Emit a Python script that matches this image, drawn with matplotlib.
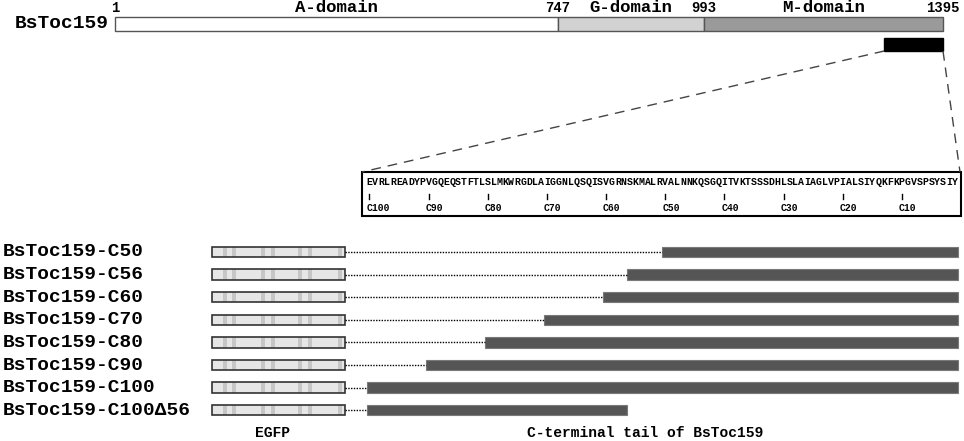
import matplotlib
matplotlib.use("Agg")
import matplotlib.pyplot as plt
from matplotlib.patches import Rectangle

plt.rcParams['font.family'] = ['Liberation Mono', 'DejaVu Sans Mono']
plt.rcParams['font.weight'] = 'bold'

# Данные: домены BsToc159
domain_names = ["A-domain", "G-domain", "M-domain"]
domain_bounds = [1, 747, 993, 1395]
domain_colors = ["#ffffff", "#d2d2d2", "#9a9a9a"]

# C-концевой хвост (последние 100 аминокислот)
tail_len = 100
sequence = "EVRLREADYPVGQEQSTFTLSLMKWRGDLAIGGNLQSQISVGRNSKMALRVALNNKQSGQITVKTSSSDHLSLAIAGLVPIALSIYQKFKPGVSPSYSIY"
tick_marks = [100, 90, 80, 70, 60, 50, 40, 30, 20, 10]

# Конструкции: (название, начало от C-конца, конец от C-конца)
construct_names = ["BsToc159-C50", "BsToc159-C56", "BsToc159-C60", "BsToc159-C70",
                   "BsToc159-C80", "BsToc159-C90", "BsToc159-C100", "BsToc159-C100\u039456"]
construct_start = [50, 56, 60, 70, 80, 90, 100, 100]
construct_end = [0, 0, 0, 0, 0, 0, 0, 56]

fig = plt.figure(figsize=(9.64, 4.41), dpi=100)
ax = fig.add_axes([0, 0, 1, 1])
ax.set_xlim(0, 964)
ax.set_ylim(441, 0)
ax.axis("off")

# --- верхняя полоса с доменами ---
bx0, bx1 = 115, 943
def res_x(r):
    return bx0 + (r - 1) * (bx1 - bx0) / (domain_bounds[-1] - 1)

bar_y, bar_h = 17, 14
for i, name in enumerate(domain_names):
    xa, xb = res_x(domain_bounds[i]), res_x(domain_bounds[i + 1])
    ax.add_patch(Rectangle((xa, bar_y), xb - xa, bar_h, facecolor=domain_colors[i],
                           edgecolor="#555555", lw=1))
    ax.text((xa + xb) / 2, 8, name, ha="center", va="center", fontsize=12.5)
for b in domain_bounds:
    ax.text(res_x(b), 8, str(b), ha="center", va="center", fontsize=10)
ax.text(109, bar_y + bar_h / 2, "BsToc159", ha="right", va="center", fontsize=14)

# чёрный блок — C-концевые 100 остатков
tx0 = res_x(domain_bounds[-1] - tail_len + 1)
tx1 = res_x(domain_bounds[-1])
ax.add_patch(Rectangle((tx0, 38), tx1 - tx0, 13, facecolor="black", edgecolor="black"))

# --- рамка с последовательностью ---
box_l, box_r, box_t, box_b = 362, 961, 172, 216
ax.add_patch(Rectangle((box_l, box_t), box_r - box_l, box_b - box_t, facecolor="white",
                       edgecolor="black", lw=1.5))
ax.plot([tx0, box_l], [51, box_t], color="#444444", lw=1, ls=(0, (7, 5)))
ax.plot([tx1, box_r - 1], [51, box_t], color="#444444", lw=1, ls=(0, (7, 5)))

sx0, cw = 366.5, 5.915
def seq_x(n_from_c):
    # левый край остатка с номером n от C-конца
    return sx0 + (tail_len - n_from_c) * cw

for i, ch in enumerate(sequence):
    ax.text(sx0 + (i + 0.5) * cw, 182, ch, ha="center", va="center", fontsize=7.1)
for t in tick_marks:
    xc = seq_x(t) + cw / 2
    ax.plot([xc, xc], [194, 199], color="black", lw=1)
    ax.text(xc - 3, 208, f"C{t}", ha="left", va="center", fontsize=7)

# --- конструкции ---
row_y0, row_dy = 252, 22.6
egfp_l, egfp_r, row_h = 212, 345, 10.5
stripes = [0.08, 0.15, 0.37, 0.44, 0.65, 0.72, 0.95]
for k, name in enumerate(construct_names):
    y = row_y0 + k * row_dy
    ax.text(3, y, name, ha="left", va="center", fontsize=14)
    ax.add_patch(Rectangle((egfp_l, y - row_h / 2), egfp_r - egfp_l, row_h,
                           facecolor="#e6e6e6", edgecolor="none"))
    for s in stripes:
        ax.add_patch(Rectangle((egfp_l + s * (egfp_r - egfp_l), y - row_h / 2), 4, row_h,
                               facecolor="#c6c6c6", edgecolor="none"))
    ax.add_patch(Rectangle((egfp_l, y - row_h / 2), egfp_r - egfp_l, row_h,
                           facecolor="none", edgecolor="#333333", lw=1.2))
    xs = seq_x(construct_start[k])
    xe = seq_x(construct_end[k])
    ax.plot([egfp_r, xs], [y, y], color="black", lw=1, ls=(0, (1, 1)))
    ax.add_patch(Rectangle((xs, y - row_h / 2), xe - xs, row_h,
                           facecolor="#555555", edgecolor="#7a7a7a", lw=0.8))

ax.text(273, 433, "EGFP", ha="center", va="center", fontsize=10.5)
ax.text(645, 433, "C-terminal tail of BsToc159", ha="center", va="center", fontsize=10.5)

fig.savefig("out.png", dpi=100)
